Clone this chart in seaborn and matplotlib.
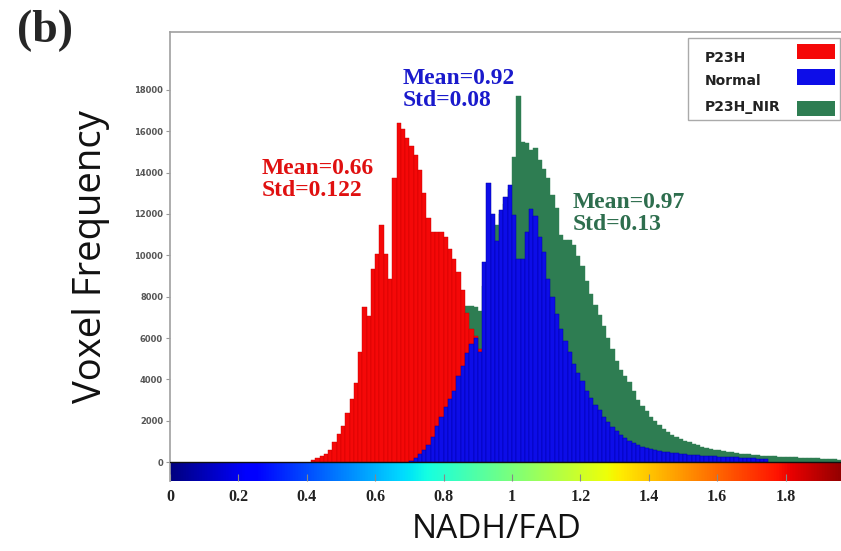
import numpy as np
import pandas as pd
import matplotlib
matplotlib.use("Agg")
import matplotlib.pyplot as plt
import seaborn as sns
from matplotlib.patches import Rectangle

# ---------------- data ----------------
bin_width = 0.0125
series_names = ["P23H", "Normal", "P23H_NIR"]
series_colors = ["#f50808", "#0d0de8", "#2e7d52"]
edge_colors = ["#c80000", "#0000a8", "#2e7d52"]
edge_widths = [0.3, 0.35, 0.3]

p23h_start = 0.4125
p23h_counts = [100, 180, 280, 400, 600, 950, 1350, 1750, 2350, 3050,
               3800, 5300, 7480, 7070, 9340, 10070, 11450, 10070, 8850, 13720,
               16400, 16100, 15700, 15300, 14850, 14120, 13000, 11800, 11120, 11120,
               11120, 10900, 10300, 9800, 9200, 8300, 7200, 6420, 6100, 5450]

normal_start = 0.70
normal_counts = [60, 200, 380, 600, 800, 1200, 1750, 2200, 2650, 3050,
                 3450, 4150, 4640, 5290, 5700, 6000, 5300, 9670, 13480, 12000,
                 10700, 12180, 12800, 13400, 11940, 9830, 9830, 11120, 12260, 11900,
                 10900, 10150, 8850, 8000, 7150, 6450, 5850, 5300, 4750, 4310,
                 3900, 3450, 3100, 2750, 2500, 2200, 1950, 1700, 1500, 1300,
                 1150, 1000, 900, 800, 720, 660, 620, 580, 540, 500,
                 480, 450, 420, 400, 380, 360, 340, 320, 310, 300,
                 280, 270, 260, 250, 240, 230, 220, 200, 190, 180,
                 170, 160, 150, 140]

nir_start = 0.70
nir_counts = [300, 500, 800, 1200, 1700, 2300, 3000, 3700, 4400, 5100,
              5800, 6400, 6900, 7550, 7550, 7500, 7300, 8500, 9500, 10500,
              11450, 12000, 12500, 13200, 14770, 17690, 15500, 15450, 15100, 15200,
              14600, 14200, 13720, 12910, 12300, 11000, 10750, 10720, 10500, 9990,
              9500, 8750, 8150, 7600, 7100, 6600, 6000, 5450, 4900, 4450,
              4150, 3850, 3450, 3000, 2700, 2450, 2200, 1980, 1780, 1600,
              1450, 1330, 1230, 1120, 1020, 950, 870, 800, 740, 690,
              640, 590, 560, 530, 490, 460, 430, 410, 390, 370,
              350, 330, 310, 290, 280, 270, 260, 250, 240, 230,
              220, 210, 200, 190, 180, 170, 160, 150, 140, 130,
              120, 110, 100, 90]

x_ticks = [0, 0.2, 0.4, 0.6, 0.8, 1.0, 1.2, 1.4, 1.6, 1.8]
x_tick_labels = ["0", "0.2", "0.4", "0.6", "0.8", "1", "1.2", "1.4", "1.6", "1.8"]
y_ticks = [0, 2000, 4000, 6000, 8000, 10000, 12000, 14000, 16000, 18000]
stat_texts = ["Mean=0.66\nStd=0.122", "Mean=0.92\nStd=0.08", "Mean=0.97\nStd=0.13"]
stat_colors = ["#e01010", "#1a1acc", "#2e6e4e"]

# ---------------- style ----------------
sns.set_theme(style="white")
plt.rcParams["font.family"] = ["DejaVu Sans"]

W, H = 841, 551
fig = plt.figure(figsize=(W / 100, H / 100), dpi=100)
ax = fig.add_axes([170 / W, 1 - 481 / H, 684 / W, 449 / H])

series = [
    (nir_start, nir_counts, 2),
    (p23h_start, p23h_counts, 0),
    (normal_start, normal_counts, 1),
]
for start, counts, k in series:
    n = len(counts)
    centers = start + bin_width * (np.arange(n) + 0.5)
    df = pd.DataFrame({"ratio": centers, "voxels": np.asarray(counts, dtype=float)})
    sns.histplot(data=df, x="ratio", weights="voxels", binwidth=bin_width,
                 binrange=(start, start + n * bin_width), color=series_colors[k],
                 alpha=1, edgecolor=edge_colors[k], linewidth=edge_widths[k], ax=ax)

# colour bar strip under the baseline
y_bottom = -919
ax.imshow(np.linspace(0, 2, 512)[np.newaxis, :], extent=[0, 2, y_bottom, 0],
          cmap="jet", vmin=0, vmax=2, aspect="auto", interpolation="bilinear", zorder=0.5)
ax.axhline(0, color="#101010", lw=1.0, zorder=3)

ax.set_xlim(0, 2)
ax.set_ylim(y_bottom, 20806)
ax.set_xlabel("")
ax.set_ylabel("")

ax.set_xticks(x_ticks)
ax.set_xticklabels(x_tick_labels, fontfamily="Liberation Serif", fontweight="bold",
                   fontsize=11.5, color="#222222")
ax.set_yticks(y_ticks)
ax.set_yticklabels([str(v) for v in y_ticks], fontsize=6, fontweight="bold", color="#555555")
ax.tick_params(axis="x", direction="in", length=5, width=0.8, color="#888888", pad=6,
               bottom=True)
ax.tick_params(axis="y", direction="out", length=3, width=0.8, color="#999999", pad=2,
               left=True)

for side in ["bottom", "right"]:
    ax.spines[side].set_visible(False)
for side in ["left", "top"]:
    ax.spines[side].set_color("#a0a0a0")
    ax.spines[side].set_linewidth(1.2)

# mean / std annotations
stat_pos = [(0.269, 14710), (0.681, 19065), (1.178, 13065)]
for txt, col, (xv, yv) in zip(stat_texts, stat_colors, stat_pos):
    ax.text(xv, yv, txt, color=col, fontfamily="Liberation Serif", fontweight="bold",
            fontsize=17, ha="left", va="top", linespacing=1.05, zorder=5)

# axis titles
fig.text(17 / W, 1 - 31 / H, "(b)", fontfamily="Liberation Serif", fontweight="bold",
         fontsize=33, ha="left", va="center")
fig.text(91 / W, 1 - 257 / H, "Voxel Frequency", fontfamily="Open Sans", fontsize=27.5,
         rotation=90, ha="center", va="center", color="#111111")
fig.text(497 / W, 1 - 529 / H, "NADH/FAD", fontfamily="Open Sans", fontsize=24,
         ha="center", va="center", color="#111111")

# legend box (labels left, swatches right)
fig.add_artist(Rectangle((688 / W, 1 - 120 / H), 152 / W, 82 / H, transform=fig.transFigure,
                         facecolor="white", edgecolor="#aaaaaa", lw=1.0, zorder=10))
text_y = [58, 81, 107]
patch_y = [51, 77, 109]
for name, col, ty, py in zip(series_names, series_colors, text_y, patch_y):
    fig.text(705 / W, 1 - ty / H, name, fontsize=10, fontweight="bold", color="#222222",
             ha="left", va="center", zorder=11)
    fig.add_artist(Rectangle((797 / W, 1 - (py + 7.5) / H), 38 / W, 15 / H,
                             transform=fig.transFigure, facecolor=col, edgecolor="none",
                             zorder=11))

fig.savefig("out.png", dpi=100)
